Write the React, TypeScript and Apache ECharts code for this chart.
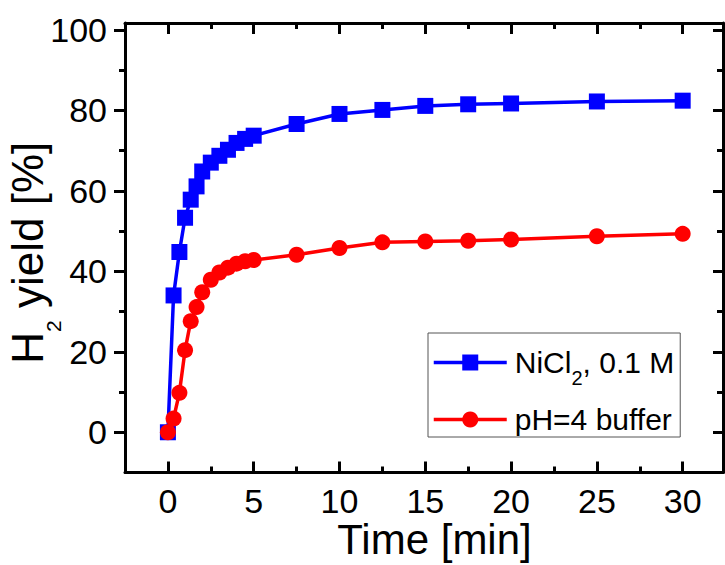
import React, { useEffect, useRef } from "react";
import * as echarts from "echarts";

const timeMin = [0, 0.33, 0.67, 1, 1.33, 1.67, 2, 2.5, 3, 3.5, 4, 4.5, 5, 7.5, 10, 12.5, 15, 17.5, 20, 25, 30];
const niCl2Yield = [0, 34, 44.8, 53.3, 57.8, 61.1, 64.8, 67.0, 68.7, 70.2, 71.9, 72.9, 73.7, 76.6, 79.1, 80.1, 81.1, 81.5, 81.7, 82.2, 82.4];
const bufferYield = [0, 3.4, 9.8, 20.4, 27.6, 31.1, 34.8, 37.9, 39.7, 40.9, 41.9, 42.5, 42.8, 44.1, 45.8, 47.2, 47.4, 47.6, 47.9, 48.7, 49.3];
const seriesNames = ["NiCl2, 0.1 M", "pH=4 buffer"];
const xMajorTicks = [0, 5, 10, 15, 20, 25, 30];
const xMinorTicks = [2.5, 7.5, 12.5, 17.5, 22.5, 27.5];
const yMajorTicks = [0, 20, 40, 60, 80, 100];
const yMinorTicks = [10, 30, 50, 70, 90];

const FONT = "'Liberation Sans', Arial, sans-serif";
const X_MIN = -2.5;
const X_MAX = 32.35;
const Y_MIN = -10;
const Y_MAX = 101.7;

function tickAxis(kind: "x" | "y", position: string, ticks: number[], length: number, inside: boolean, showLine: boolean, labels: boolean, extra: any = {}) {
  return {
    type: "value",
    position,
    min: kind === "x" ? X_MIN : Y_MIN,
    max: kind === "x" ? X_MAX : Y_MAX,
    axisLine: { show: showLine, onZero: false, lineStyle: { color: "#000", width: 3 } },
    axisTick: { show: true, inside, length, customValues: ticks, lineStyle: { color: "#000", width: 3 } },
    axisLabel: labels
      ? { show: true, customValues: ticks, fontSize: 34, color: "#000", fontFamily: FONT, margin: kind === "x" ? 11 : 18 }
      : { show: false },
    splitLine: { show: false },
    ...extra,
  };
}

export default function App() {
  const ref = useRef<HTMLDivElement>(null);
  useEffect(() => {
    if (!ref.current) return;
    const chart = echarts.init(ref.current, null, { renderer: "svg" });
    const blueData = timeMin.map((t, i) => [t, niCl2Yield[i]]);
    const redData = timeMin.map((t, i) => [t, bufferYield[i]]);
    chart.setOption({
      animation: false,
      backgroundColor: "#fff",
      grid: { left: 125, right: 2, top: 23, bottom: 92.5, containLabel: false, outerBoundsMode: "none" },
      xAxis: [
        tickAxis("x", "bottom", xMajorTicks, 11, true, true, true, {
          name: "Time [min]",
          nameLocation: "middle",
          nameGap: 46,
          nameMoveOverlap: false,
          nameTextStyle: { fontSize: 42, color: "#000", fontFamily: FONT, padding: [0, 0, 0, 21] },
        }),
        tickAxis("x", "bottom", xMinorTicks, 6, true, false, false),
        tickAxis("x", "top", xMajorTicks, 11, true, true, false),
        tickAxis("x", "top", xMinorTicks, 6, true, false, false),
      ],
      yAxis: [
        tickAxis("y", "left", yMajorTicks, 11, false, true, true, {
          name: "H{sub|2} yield [%]",
          nameLocation: "middle",
          nameRotate: 90,
          nameGap: 71,
          nameMoveOverlap: false,
          nameTextStyle: {
            fontSize: 44,
            color: "#000",
            fontFamily: FONT,
            lineHeight: 53,
            padding: [0, 10, 0, 0],
            rich: {
              sub: { fontSize: 21, color: "#000", fontFamily: FONT, lineHeight: 2, padding: [52, 0, 0, 0] },
            },
          },
        }),
        tickAxis("y", "left", yMinorTicks, 6, false, false, false),
        tickAxis("y", "right", yMajorTicks, 10, true, true, false),
        tickAxis("y", "right", yMinorTicks, 6, true, false, false),
      ],
      legend: {
        orient: "vertical",
        left: 428,
        top: 333,
        padding: [4, 6, 1, 4],
        itemGap: 15,
        itemWidth: 73,
        itemHeight: 20,
        borderColor: "#555",
        borderWidth: 1,
        selectedMode: false,
        data: seriesNames,
        lineStyle: { width: 3.5 },
        formatter: (name: string) => name.replace("NiCl2", "NiCl{sub|2}"),
        textStyle: {
          fontSize: 30,
          color: "#000",
          fontFamily: FONT,
          lineHeight: 33,
          padding: [0, 0, 0, 3],
          rich: {
            sub: { fontSize: 20, color: "#000", fontFamily: FONT, lineHeight: 2, padding: [31, 0, 0, 0] },
          },
        },
      },
      series: [
        {
          name: seriesNames[0],
          type: "line",
          data: blueData,
          symbol: "rect",
          symbolSize: 16,
          color: "#0000ff",
          lineStyle: { color: "#0000ff", width: 3.5 },
          itemStyle: { color: "#0000ff" },
          z: 2,
        },
        {
          name: seriesNames[1],
          type: "line",
          data: redData,
          symbol: "circle",
          symbolSize: 16,
          color: "#ff0000",
          lineStyle: { color: "#ff0000", width: 3.5 },
          itemStyle: { color: "#ff0000" },
          z: 3,
        },
      ],
    });
    return () => chart.dispose();
  }, []);
  return <div ref={ref} style={{ position: "fixed", left: 0, top: 0, width: 725, height: 565 }} />;
}
